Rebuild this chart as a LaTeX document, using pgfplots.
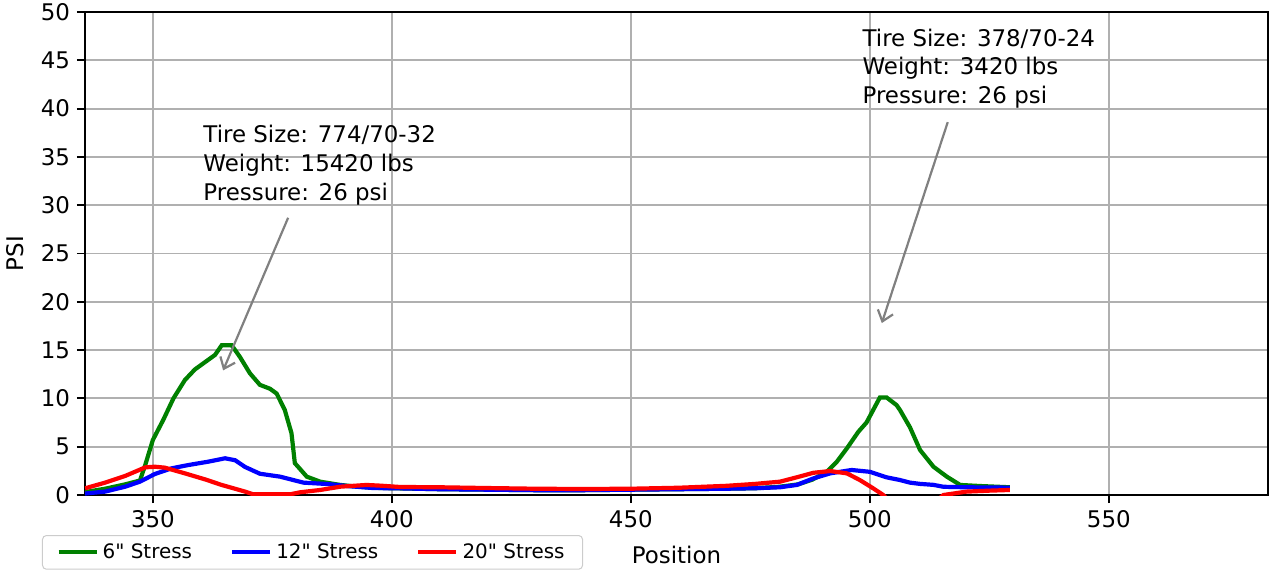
\documentclass[border=0pt]{standalone}
\usepackage{fontspec}
\setmainfont{DejaVu Sans}[Ligatures=TeXOff]
\usepackage{pgfplots}
\pgfplotsset{compat=1.18}
\usetikzlibrary{arrows.meta}
\definecolor{mplgreen}{RGB}{0,128,0}
\definecolor{mplblue}{RGB}{0,0,255}
\definecolor{mplred}{RGB}{255,0,0}
\definecolor{gridgray}{RGB}{176,176,176}
\definecolor{arrowgray}{RGB}{128,128,128}

\pgfplotstableread{
x y
335.8 0.3
340 0.65
344.2 1.1
347.3 1.5
348.4 3.1
350 5.7
352.2 7.8
354.3 10.0
356.7 11.9
358.8 13.0
361.6 14.0
363 14.5
364.4 15.5
366.5 15.5
368.2 14.3
370.3 12.6
372.4 11.4
374.5 11.0
375.9 10.5
377.6 8.8
379 6.4
379.7 3.3
382.2 1.9
385 1.38
389.2 1.04
392 0.9
396 0.75
400 0.7
410 0.6
420 0.55
430 0.5
440 0.5
450 0.55
460 0.6
470 0.65
476 0.7
481 0.85
485 1.1
488 1.6
491 2.4
493.1 3.45
495.2 4.83
497.6 6.55
499.3 7.5
500.7 8.8
502.1 10.1
503.5 10.1
505.6 9.3
506.3 8.8
508.4 7.0
510.5 4.66
513.3 2.93
516.1 1.9
518.9 1.04
523 0.93
529.3 0.8
}\sixstress

\pgfplotstableread{
x y
335.8 0.15
340 0.35
344.2 0.86
347.3 1.38
350.4 2.17
353.9 2.76
357.4 3.1
361.6 3.45
365.1 3.8
367.2 3.6
369.3 2.9
372.4 2.2
376.6 1.9
381.5 1.28
386.4 1.14
390.6 0.93
396.1 0.72
401.7 0.69
410 0.6
420 0.55
430 0.5
440 0.5
450 0.55
460 0.6
470 0.65
476 0.7
481.2 0.8
484.7 1.04
488.2 1.72
491.7 2.24
496.2 2.59
500 2.4
503.5 1.83
506.3 1.55
508.4 1.28
510.5 1.15
513.3 1.05
515.4 0.85
520 0.8
529.3 0.76
}\twelvestress

\pgfplotstableread{
x y
335.8 0.69
340 1.28
344.2 1.97
348.4 2.86
350.4 2.93
352.5 2.83
356.7 2.24
360.9 1.62
364.4 1.04
369.3 0.35
371 0.07
378.7 0.07
380.8 0.28
385 0.52
389.2 0.86
394.7 1.04
397.5 0.97
401.7 0.83
410 0.8
420 0.72
430 0.65
440 0.62
450 0.65
460 0.75
470 0.95
476 1.15
481.2 1.38
484.7 1.83
488.2 2.3
491.7 2.48
495.2 2.24
497.9 1.55
500.7 0.69
502.8 0.0
504 -0.6
514 -0.6
515.4 0.0
520.2 0.35
525 0.45
529.3 0.52
}\twentystress

\begin{document}
\begin{tikzpicture}
\begin{axis}[
  name=ax,
  scale only axis, width=591.5bp, height=241.5bp,
  xmin=335.8, xmax=583.3, ymin=0, ymax=50,
  xtick={350,400,450,500,550}, ytick={0,5,...,50},
  grid=major, major grid style={gridgray, line width=0.92bp},
  axis line style={line width=0.92bp},
  tick style={black, line width=0.92bp},
  tick align=outside, major tick length=4bp, tick pos=left,
  ticklabel style={font=\fontsize{11.5}{13}\selectfont},
  /pgf/number format/assume math mode=true,
  xlabel={Position}, ylabel={PSI},
  every axis x label/.style={at={(axis description cs:0.5,0)}, anchor=center, yshift=-30bp, font=\fontsize{11.5}{13}\selectfont},
  every axis y label/.style={at={(axis description cs:0,0.5)}, xshift=-35bp, rotate=90, anchor=center, font=\fontsize{11.5}{13}\selectfont},
  legend style={at={(axis description cs:0,0)}, anchor=north west, xshift=-21.5bp, yshift=-20bp,
    legend columns=3, draw=black!20, rounded corners=2bp, line width=0.5bp,
    font=\fontsize{10}{12}\selectfont, inner xsep=7bp, inner ysep=2bp},
  legend image code/.code={\draw[#1] (0bp,0bp) -- (19bp,0bp);},
  legend cell align=left,
  /tikz/every even column/.append style={column sep=17bp},
  clip=true,
]
\addplot[mplgreen, line width=2.1bp] table[x=x,y=y] {\sixstress};
\addlegendentry{6" Stress}
\addplot[mplblue, line width=2.1bp] table[x=x,y=y] {\twelvestress};
\addlegendentry{12" Stress}
\addplot[mplred, line width=2.1bp] table[x=x,y=y] {\twentystress};
\addlegendentry{20" Stress}

\node[anchor=south west, inner sep=0pt, align=left, font=\fontsize{11.5}{14.4}\selectfont] at (axis cs:360.5,30) {Tire Size: 774/70-32\\Weight: 15420 lbs\\Pressure: 26 psi};
\node[anchor=south west, inner sep=0pt, align=left, font=\fontsize{11.5}{14.4}\selectfont] at (axis cs:498.4,40) {Tire Size: 378/70-24\\Weight: 3420 lbs\\Pressure: 26 psi};
\draw[arrowgray, line width=1.1bp, -{Straight Barb[length=5bp,width=8bp]}] (axis cs:378.3,28.7) -- (axis cs:364.7,12.9);
\draw[arrowgray, line width=1.1bp, -{Straight Barb[length=5bp,width=8bp]}] (axis cs:516.3,38.6) -- (axis cs:502.5,17.8);
\end{axis}
\pgfresetboundingbox
\path[use as bounding box] (ax.south west) ++(-42.5bp,-39.5bp) rectangle ++(635.5bp,287bp);
\end{tikzpicture}
\end{document}
